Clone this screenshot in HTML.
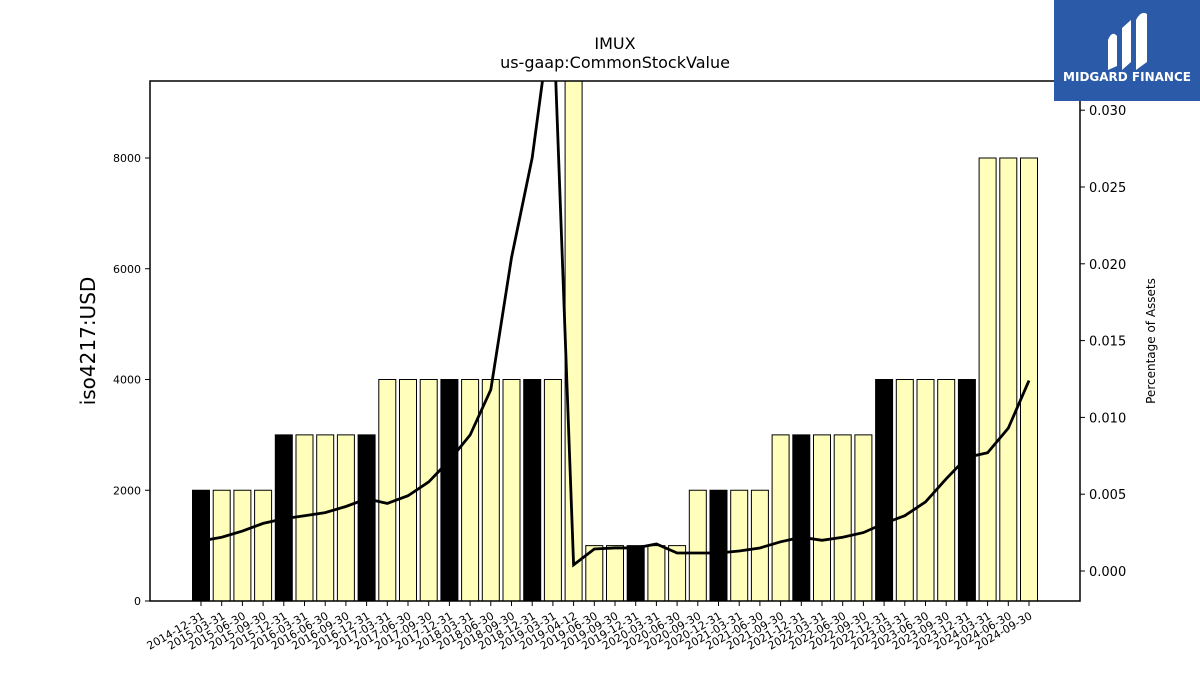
<!DOCTYPE html>
<html><head><meta charset="utf-8"><style>
body{margin:0;background:#fff;font-family:"DejaVu Sans","Liberation Sans",sans-serif}
</style></head><body>
<svg id="chart" width="1200" height="675" xmlns="http://www.w3.org/2000/svg" font-family="DejaVu Sans, Liberation Sans, sans-serif">
<rect width="1200" height="675" fill="#fff"/>
<text x="615" y="49" font-size="16" text-anchor="middle">IMUX</text>
<text x="615" y="68" font-size="16" text-anchor="middle">us-gaap:CommonStockValue</text>
<g id="plot"></g>
<text transform="translate(95,341) rotate(-90)" font-size="20" text-anchor="middle">iso4217:USD</text>
<text transform="translate(1155,341) rotate(-90)" font-size="12" text-anchor="middle">Percentage of Assets</text>
<g>
<rect x="1054" y="0" width="146" height="101" fill="#2a5aa8"/>
<path d="M1108 70 L1108 40 Q1112 30 1117 36 L1117 66 Z M1122 70 L1122 28 L1131 20 L1131 62 Z M1136 70 L1136 20 Q1141 10 1147 14 L1147 62 Z" fill="#fff"/>
<text x="1127" y="81" font-size="12" font-weight="bold" fill="#fff" text-anchor="middle">MIDGARD FINANCE</text>
</g>
</svg>
<script>
const categories=["2014-12-31","2015-03-31","2015-06-30","2015-09-30","2015-12-31","2016-03-31","2016-06-30","2016-09-30","2016-12-31","2017-03-31","2017-06-30","2017-09-30","2017-12-31","2018-03-31","2018-06-30","2018-09-30","2018-12-31","2019-03-31","2019-04-12","2019-06-30","2019-09-30","2019-12-31","2020-03-31","2020-06-30","2020-09-30","2020-12-31","2021-03-31","2021-06-30","2021-09-30","2021-12-31","2022-03-31","2022-06-30","2022-09-30","2022-12-31","2023-03-31","2023-06-30","2023-09-30","2023-12-31","2024-03-31","2024-06-30","2024-09-30"];
const values=[2000,2000,2000,2000,3000,3000,3000,3000,3000,4000,4000,4000,4000,4000,4000,4000,4000,4000,20000,1000,1000,1000,1000,1000,2000,2000,2000,2000,3000,3000,3000,3000,3000,4000,4000,4000,4000,4000,8000,8000,8000];
const annual=[1,0,0,0,1,0,0,0,1,0,0,0,1,0,0,0,1,0,0,0,0,1,0,0,0,1,0,0,0,1,0,0,0,1,0,0,0,1,0,0,0];
const pct=[0.00195,0.0022,0.0026,0.0031,0.0034,0.0036,0.0038,0.0042,0.0047,0.0044,0.0049,0.0058,0.0072,0.00885,0.0118,0.0204,0.0269,0.037,0.0004,0.00143,0.0015,0.0015,0.00176,0.00117,0.00117,0.00117,0.0013,0.0015,0.0019,0.0022,0.002,0.0022,0.0025,0.0031,0.0036,0.0045,0.006,0.0074,0.0077,0.0093,0.0124];
const leftTicks=[0,2000,4000,6000,8000];
const rightTicks=[0,0.005,0.010,0.015,0.020,0.025,0.030];
const NS="http://www.w3.org/2000/svg";
const L=150,R=1080,T=81,B=601;
const y=v=>B-v/2000*110.75;
const y2=v=>571-v/0.005*76.8;
const x=i=>201+i*(1029-201)/(categories.length-1);
const g=document.getElementById('plot');
function mk(t,a,p){const e=document.createElementNS(NS,t);for(const k in a)e.setAttribute(k,a[k]);(p||g).appendChild(e);return e;}
const defs=mk('defs',{});const cp=mk('clipPath',{id:'c'},defs);mk('rect',{x:L,y:T,width:R-L,height:B-T},cp);
const bars=mk('g',{'clip-path':'url(#c)'});


values.forEach((v,i)=>{const r=mk('rect',{x:x(i)-8.5,y:y(v),width:17,height:B-y(v),fill:annual[i]?'#000':'#ffffbb',stroke:'#000','stroke-width':1},bars);

});
const ln=mk('polyline',{points:pct.map((v,i)=>x(i)+','+y2(v)).join(' '),fill:'none',stroke:'#000','stroke-width':2.8,'clip-path':'url(#c)'});


const fr=mk('rect',{x:L,y:T,width:R-L,height:B-T,fill:'none',stroke:'#000','stroke-width':1.5});


leftTicks.forEach(v=>{mk('line',{x1:L-5,x2:L,y1:y(v),y2:y(v),stroke:'#000'});
const t=mk('text',{x:L-9,y:y(v)+4,'font-size':11,'text-anchor':'end'});t.textContent=v;

});
rightTicks.forEach(v=>{mk('line',{x1:R,x2:R+5,y1:y2(v),y2:y2(v),stroke:'#000'});
const t=mk('text',{x:R+9,y:y2(v)+5,'font-size':13});t.textContent=v.toFixed(3);

});
categories.forEach((c,i)=>{mk('line',{x1:x(i),x2:x(i),y1:B,y2:B+5,stroke:'#000'});
const t=mk('text',{transform:`translate(${x(i)+4},${B+17}) rotate(-30)`,'font-size':11,'text-anchor':'end'});t.textContent=c;

});
</script>
</body></html>
